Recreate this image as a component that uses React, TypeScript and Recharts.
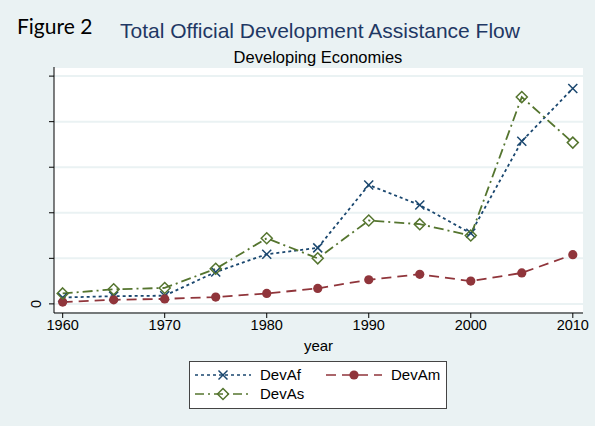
import { LineChart, Line, XAxis, YAxis, CartesianGrid, Legend } from 'recharts';

const years = [1960, 1965, 1970, 1975, 1980, 1985, 1990, 1995, 2000, 2005, 2010];
const devAf = [0.14, 0.17, 0.18, 0.7, 1.09, 1.23, 2.61, 2.17, 1.55, 3.57, 4.73];
const devAm = [0.04, 0.09, 0.11, 0.15, 0.23, 0.34, 0.53, 0.65, 0.5, 0.68, 1.08];
const devAs = [0.23, 0.32, 0.35, 0.77, 1.44, 1.0, 1.83, 1.75, 1.5, 4.54, 3.54];
const xTicks = [1960, 1970, 1980, 1990, 2000, 2010];
const yTicks = [0, 1, 2, 3, 4, 5];

const BG = '#eaf2f3';
const NAVY = '#1a476f';
const MAROON = '#90353b';
const GREEN = '#55752f';
const FONT = '"Liberation Sans", Arial, sans-serif';

const chartData = years.map((year, i) => ({
  year,
  DevAf: devAf[i],
  DevAm: devAm[i],
  DevAs: devAs[i],
}));

function CrossDot(props: any) {
  const { cx, cy } = props;
  if (cx == null || cy == null) return null;
  const s = 4.5;
  return (
    <g stroke={NAVY} strokeWidth={1.5}>
      <line x1={cx - s} y1={cy - s} x2={cx + s} y2={cy + s} />
      <line x1={cx - s} y1={cy + s} x2={cx + s} y2={cy - s} />
    </g>
  );
}

function CircleDot(props: any) {
  const { cx, cy } = props;
  if (cx == null || cy == null) return null;
  return <circle cx={cx} cy={cy} r={4.6} fill={MAROON} stroke="none" />;
}

function DiamondDot(props: any) {
  const { cx, cy } = props;
  if (cx == null || cy == null) return null;
  const s = 5.5;
  return (
    <polygon
      points={`${cx},${cy - s} ${cx + s},${cy} ${cx},${cy + s} ${cx - s},${cy}`}
      fill="none"
      stroke={GREEN}
      strokeWidth={1.5}
    />
  );
}

function YTick(props: any) {
  const { x, y, payload } = props;
  if (payload.value !== 0) return null;
  return (
    <text
      x={x - 6}
      y={y}
      transform={`rotate(-90 ${x - 6} ${y})`}
      textAnchor="middle"
      fontSize={14.5}
      fontFamily={FONT}
      fill="#000"
    >
      0
    </text>
  );
}

const legendItems = [
  { name: 'DevAf', color: NAVY, dash: '3 3', Mark: CrossDot, left: 6, top: 14 },
  { name: 'DevAm', color: MAROON, dash: '10 6', Mark: CircleDot, left: 137, top: 14 },
  { name: 'DevAs', color: GREEN, dash: '9 4 2 4', Mark: DiamondDot, left: 6, top: 33 },
];

function LegendBox() {
  return (
    <svg width={258} height={48} style={{ display: 'block' }}>
      <rect x={0.5} y={0.5} width={257} height={47} fill="#fff" stroke="#444" strokeWidth={1} />
      {legendItems.map(({ name, color, dash, Mark, left, top }) => (
        <g key={name}>
          <line x1={left} y1={top} x2={left + 56} y2={top} stroke={color} strokeWidth={1.6} strokeDasharray={dash} />
          <Mark cx={left + 28} cy={top} />
          <text x={left + 65} y={top + 5} fontSize={15} fontFamily={FONT} fill="#000">
            {name}
          </text>
        </g>
      ))}
    </svg>
  );
}

export default function App() {
  return (
    <div style={{ position: 'fixed', left: 0, top: 0, width: 595, height: 426, background: BG, fontFamily: FONT }}>
      <div style={{ position: 'absolute', left: 17, top: 13, fontSize: 21, fontFamily: 'Lato, "Open Sans", sans-serif', color: '#000' }}>
        Figure 2
      </div>
      <div style={{ position: 'absolute', left: 120, top: 19, fontSize: 21, color: '#1f3864', whiteSpace: 'nowrap' }}>
        Total Official Development Assistance Flow
      </div>
      <div style={{ position: 'absolute', left: 0, width: 636, top: 48, fontSize: 16.5, color: '#000', textAlign: 'center' }}>
        Developing Economies
      </div>
      <LineChart
        width={595}
        height={426}
        data={chartData}
        margin={{ top: 67, right: 12, left: 24, bottom: 35 }}
      >
        <CartesianGrid vertical={false} horizontal stroke={BG} strokeWidth={2} fill="#fff" />
        <XAxis
          dataKey="year"
          type="number"
          domain={[1959.15, 2011]}
          ticks={xTicks}
          allowDataOverflow
          height={30}
          tickSize={5}
          stroke="#000"
          tick={{ fill: '#000', fontSize: 14.5, fontFamily: FONT }}
          label={{ value: 'year', position: 'insideBottom', offset: -8, fill: '#000', fontSize: 15, fontFamily: FONT }}
        />
        <YAxis
          type="number"
          domain={[-0.2, 5.2]}
          ticks={yTicks}
          allowDataOverflow
          width={30}
          tickSize={5}
          stroke="#000"
          tick={<YTick />}
        />
        <Legend
          content={<LegendBox />}
          wrapperStyle={{ position: 'absolute', left: 189, top: 361, width: 258, height: 48 }}
        />
        <Line
          dataKey="DevAf"
          stroke={NAVY}
          strokeWidth={1.8}
          strokeDasharray="3 3"
          dot={<CrossDot />}
          activeDot={false}
          isAnimationActive={false}
        />
        <Line
          dataKey="DevAm"
          stroke={MAROON}
          strokeWidth={1.8}
          strokeDasharray="10 6"
          dot={<CircleDot />}
          activeDot={false}
          isAnimationActive={false}
        />
        <Line
          dataKey="DevAs"
          stroke={GREEN}
          strokeWidth={1.8}
          strokeDasharray="10 4 2 4"
          dot={<DiamondDot />}
          activeDot={false}
          isAnimationActive={false}
        />
      </LineChart>
    </div>
  );
}
